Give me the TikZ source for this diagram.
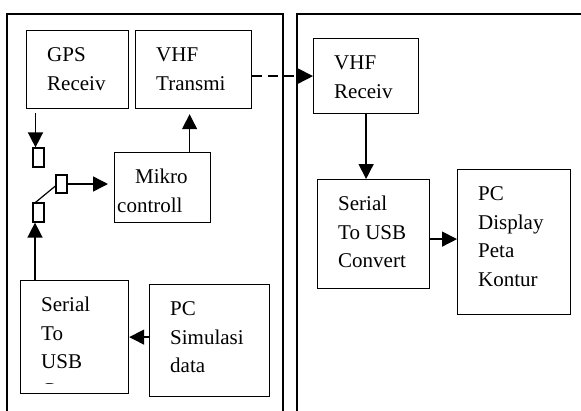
\documentclass[tikz,border=0pt]{standalone}
\usepackage{fontspec}
\setmainfont{Liberation Serif}
\usetikzlibrary{arrows.meta}
\newcommand\isifont{\fontsize{21}{28.5}\selectfont}
\begin{document}
\begin{tikzpicture}[x=1pt, y=-1pt,
bingkai/.style = {draw, line width=1.5pt},
kotak/.style = {draw, line width=1.2pt, inner sep=0pt, anchor=north west},
konektor/.style = {draw, line width=1.2pt, inner sep=0pt, minimum width=11pt, minimum height=19pt},
teks/.style = {anchor=north west, align=left, inner sep=0pt, font=\isifont, xshift=21pt, yshift=-11.5pt},
panah/.style = {-{Triangle[length=15pt,width=15pt]}, line width=1.5pt}
]
\clip (0,0) rectangle (581,410);
\fill[white] (0,0) rectangle (581,410);
\draw[bingkai] (7,420) -- (7,14) -- (283,14) -- (283,420);
\draw[bingkai] (297,420) -- (297,14) -- (590,14);
\node[kotak, minimum width=102pt, minimum height=78pt] (gps) at (26,30) {};
\node[kotak, minimum width=116pt, minimum height=78pt] (vhft) at (135,30) {};
\node[kotak, minimum width=96pt, minimum height=70pt] (mikro) at (114,152) {};
\node[kotak, minimum width=108pt, minimum height=113pt] (ser1) at (20,280) {};
\node[kotak, minimum width=120pt, minimum height=112pt] (pcs) at (149,284) {};
\node[kotak, minimum width=105pt, minimum height=75pt] (vhfr) at (313,38) {};
\node[kotak, minimum width=112pt, minimum height=109pt] (ser2) at (317,179) {};
\node[kotak, minimum width=113pt, minimum height=145pt] (pcd) at (457,169) {};
\node[teks] (gps-t) at (gps.north west) {\strut GPS\\Receiv};
\node[teks] (vhft-t) at (vhft.north west) {\strut VHF\\Transmi};
\node[teks, xshift=-18pt] (mikro-t) at (mikro.north west) {\strut\hspace*{18pt}Mikro\\controll};
\node[teks] (vhfr-t) at (vhfr.north west) {\strut VHF\\Receiv};
\node[teks] (ser2-t) at (ser2.north west) {\strut Serial\\To USB\\Convert};
\node[teks] (pcd-t) at (pcd.north west) {\strut PC\\Display\\Peta\\Kontur};
\begin{scope}
\clip (ser1.north west) rectangle ([yshift=10.8pt]ser1.south east);
\node[teks] (ser1-t) at (ser1.north west) {\strut Serial\\To\\USB\\Convert};
\end{scope}
\begin{scope}
\clip (pcs.north west) rectangle ([yshift=10.8pt]pcs.south east);
\node[teks] (pcs-t) at (pcs.north west) {\strut PC\\Simulasi\\data\\GPS};
\end{scope}
\node[konektor] (r1) at (38.5,157.5) {};
\node[konektor, minimum height=18pt] (r2) at (61.5,184) {};
\node[konektor] (r3) at (38.5,212.5) {};
\draw[panah] ([xshift=-3pt,yshift=-4pt]gps.south -| r1.north) -- ([xshift=-3pt]r1.north);
\draw[panah] ([xshift=15pt]ser1.north west) -- ([xshift=15pt]ser1.north west |- r3.south);
\draw[line width=1.2pt] ([xshift=-3pt]r3.north) -- ([yshift=-2pt]r2.west);
\draw[panah, shorten >=6pt] (r2.east) -- (r2.east -| mikro.west);
\coordinate (naik) at ([xshift=-4pt]vhft.south);
\draw[panah, shorten >=5pt] (naik |- mikro.north) -- (naik);
\draw[panah, dash pattern=on 10pt off 6pt] (vhft.east |- vhfr.west) -- (vhfr.west);
\draw[panah] (vhfr.south) -- (vhfr.south |- ser2.north);
\draw[panah] ([yshift=-5pt]ser2.east) -- ([yshift=-5pt]ser2.east -| pcd.west);
\draw[panah] (pcs.west |- ser1.east) -- (ser1.east);
\end{tikzpicture}
\end{document}
